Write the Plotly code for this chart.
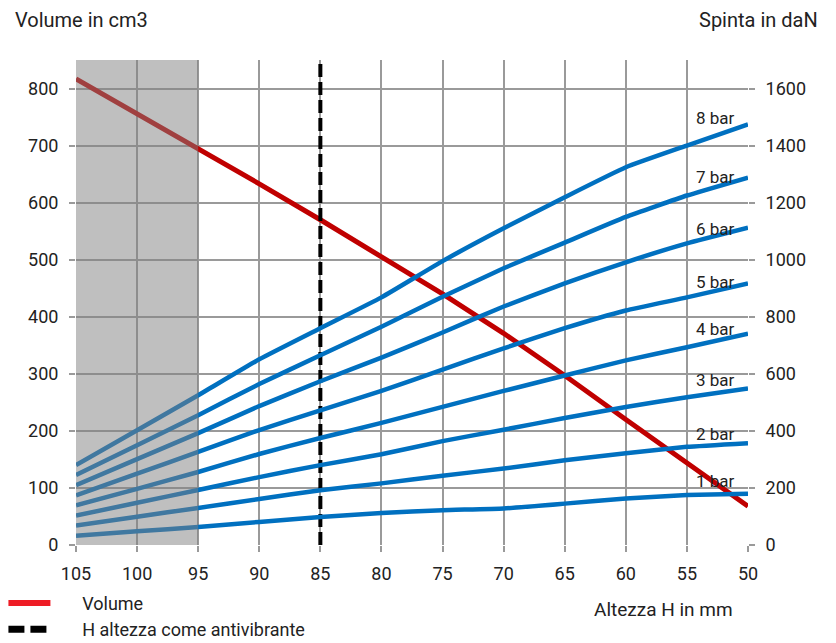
import plotly.graph_objects as go

# Altezza H in mm (x axis, reversed)
altezza = [105, 100, 95, 90, 85, 80, 75, 70, 65, 60, 55, 50]

# Volume in cm3 (left axis)
volume = [817, 756, 695, 633, 570, 505, 440, 371, 297, 220, 143, 68]

# Spinta in daN (right axis), one series per pressure
spinta = {
    "8 bar": [280, 402, 525, 651, 760, 868, 995, 1110, 1219, 1324, 1400, 1474],
    "7 bar": [245, 350, 455, 564, 665, 765, 870, 970, 1060, 1150, 1225, 1288],
    "6 bar": [210, 301, 392, 487, 574, 657, 745, 836, 917, 991, 1057, 1112],
    "5 bar": [174, 250, 326, 403, 472, 540, 615, 689, 760, 822, 868, 917],
    "4 bar": [139, 197, 256, 319, 375, 428, 484, 540, 594, 647, 693, 741],
    "3 bar": [103, 148, 193, 238, 280, 318, 364, 404, 445, 484, 518, 549],
    "2 bar": [68, 99, 130, 161, 192, 216, 243, 268, 297, 322, 344, 357],
    "1 bar": [32, 48, 63, 81, 98, 112, 122, 128, 145, 163, 175, 180],
}

# zona grigia e altezza antivibrante
zona_grigia = [105, 95]
h_antivibrante = 85

FONT = "Roboto"
TXT = "#222222"
GRID = "#9a9a9a"
BLUE = "#0070C0"
RED = "#C00000"
PAD = "\u00a0" * 6  # space between legend symbol and text

fig = go.Figure()

for name, vals in spinta.items():
    fig.add_trace(go.Scatter(
        x=altezza, y=vals, yaxis="y2", mode="lines",
        line=dict(color=BLUE, width=4.5, shape="spline", smoothing=0.4),
        showlegend=False, hoverinfo="skip"
    ))

fig.add_trace(go.Scatter(
    x=altezza, y=volume, mode="lines",
    line=dict(color=RED, width=5),
    showlegend=False
))

fig.add_trace(go.Scatter(
    x=[h_antivibrante, h_antivibrante], y=[0, 850], mode="lines",
    line=dict(color="black", width=4, dash="13px,5px"),
    showlegend=False
))

# legend entries
fig.add_trace(go.Scatter(
    x=[None], y=[None], mode="lines", name=PAD + "Volume",
    line=dict(color="#EE1C25", width=6)
))
fig.add_trace(go.Scatter(
    x=[None], y=[None], mode="lines", name=PAD + "H altezza come antivibrante",
    line=dict(color="black", width=7, dash="16px,6px")
))

# grey area drawn over the curves
fig.add_shape(type="rect", x0=zona_grigia[0], x1=zona_grigia[1], y0=0, y1=1,
              xref="x", yref="paper", layer="above",
              fillcolor="rgba(128,128,128,0.5)", line=dict(width=0))

# curve labels
label_shift = [6, 1, -1, 1, 5, 8, 9, 13]
for (name, vals), dy in zip(spinta.items(), label_shift):
    fig.add_annotation(x=52.7, y=vals[-1], yref="y2", text=name,
                       showarrow=False, yshift=dy,
                       font=dict(family=FONT, size=17, color=TXT))

fig.add_annotation(x=-0.094, y=1.0825, xref="paper", yref="paper",
                   text="Volume in cm3", showarrow=False,
                   xanchor="left", yanchor="middle",
                   font=dict(family=FONT, size=20, color=TXT))
fig.add_annotation(x=1.107, y=1.0825, xref="paper", yref="paper",
                   text="Spinta in daN", showarrow=False,
                   xanchor="right", yanchor="middle",
                   font=dict(family=FONT, size=20, color=TXT))
fig.add_annotation(x=0.981, y=-0.132, xref="paper", yref="paper",
                   text="Altezza H in mm", showarrow=False,
                   xanchor="right", yanchor="middle",
                   font=dict(family=FONT, size=19, color=TXT))

fig.update_layout(
    width=836, height=643,
    margin=dict(l=76, r=88, t=60, b=98, autoexpand=False),
    plot_bgcolor="white", paper_bgcolor="white",
    font=dict(family=FONT, size=18, color=TXT),
    showlegend=True,
    legend=dict(
        x=-0.108, y=-0.082, xanchor="left", yanchor="top",
        font=dict(family=FONT, size=18, color=TXT),
        itemwidth=42, tracegroupgap=0, bgcolor="rgba(0,0,0,0)"
    ),
    xaxis=dict(
        range=[105, 50], tickvals=altezza, showgrid=True,
        gridcolor=GRID, gridwidth=1.5, zeroline=False, showline=False,
        ticks="outside", ticklen=6, tickcolor=GRID, tickwidth=1.5,
        ticklabelstandoff=6, automargin=False
    ),
    yaxis=dict(
        range=[0, 850], dtick=100, tick0=0, showgrid=True,
        gridcolor=GRID, gridwidth=1.5, zeroline=False, showline=False,
        ticks="outside", ticklen=6, tickcolor=GRID, tickwidth=1.5,
        ticklabelstandoff=7, automargin=False
    ),
    yaxis2=dict(
        range=[0, 1700], dtick=200, tick0=0, overlaying="y", side="right",
        showgrid=False, zeroline=False, showline=False,
        ticks="outside", ticklen=6, tickcolor=GRID, tickwidth=1.5,
        ticklabelstandoff=7, automargin=False
    ),
)

# figure fills the whole window: drop the page's default body margin
fig.write_html("out.html",
               config={"displayModeBar": False},
               post_script="document.body.style.margin='0';document.body.style.overflow='hidden';")
